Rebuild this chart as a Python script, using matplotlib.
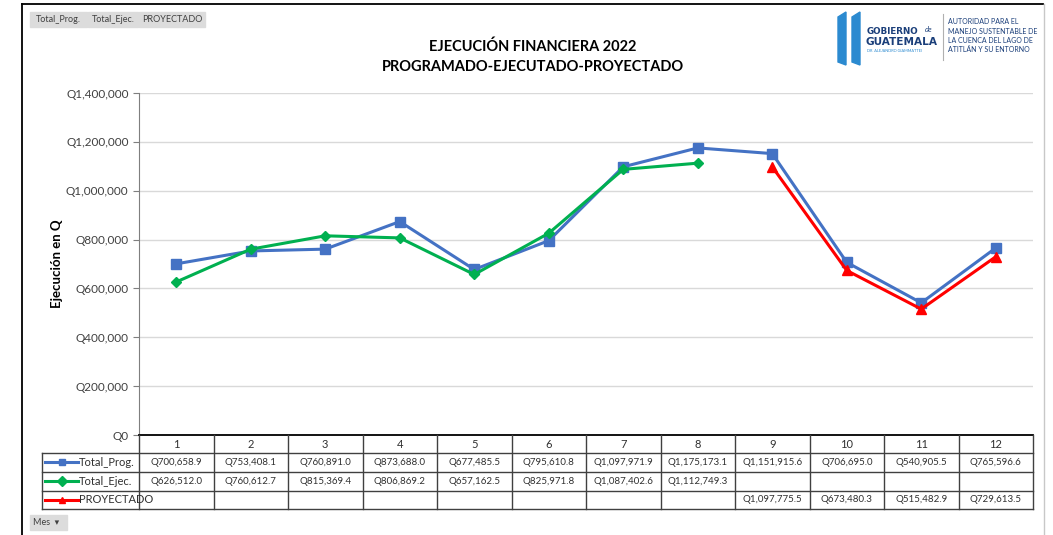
import numpy as np
import matplotlib.pyplot as plt
from matplotlib.patches import Rectangle, Polygon
from matplotlib.lines import Line2D
from matplotlib.ticker import FuncFormatter

# datos
meses = [1, 2, 3, 4, 5, 6, 7, 8, 9, 10, 11, 12]
total_prog = [700658.9, 753408.1, 760891.0, 873688.0, 677485.5, 795610.8,
              1097971.9, 1175173.1, 1151915.6, 706695.0, 540905.5, 765596.6]
total_ejec = [626512.0, 760612.7, 815369.4, 806869.2, 657162.5, 825971.8,
              1087402.6, 1112749.3]
proy_meses = [9, 10, 11, 12]
proyectado = [1097775.5, 673480.3, 515482.9, 729613.5]

series = ["Total_Prog.", "Total_Ejec.", "PROYECTADO"]
titulo = "EJECUCIÓN FINANCIERA 2022\nPROGRAMADO-EJECUTADO-PROYECTADO"

AZUL, VERDE, ROJO = "#4472C4", "#00B050", "#FF0000"
FONT = "Lato"
plt.rcParams['font.family'] = [FONT, 'DejaVu Sans']

W, H = 1053, 535
fig = plt.figure(figsize=(W / 100, H / 100), dpi=100)
fig.patch.set_facecolor("white")


def fx(px):
    return px / W


def fy(py):
    return 1 - py / H


# marco
fig.add_artist(Line2D([fx(22), fx(22)], [fy(4), 0], color="black", lw=1.3))
fig.add_artist(Line2D([fx(22), fx(1043)], [fy(4), fy(4)], color="black", lw=1.3))
fig.add_artist(Line2D([fx(1044), fx(1044)], [fy(4), 0], color="#c8c8c8", lw=1))

# grafico principal
x0, x1, ytop, ybot = 139, 1033, 93, 435
ax = fig.add_axes([fx(x0), fy(ybot), fx(x1 - x0), (ybot - ytop) / H])
ax.plot(meses, total_prog, color=AZUL, lw=2.2, marker="s", ms=6.5, zorder=3)
ax.plot(meses[:len(total_ejec)], total_ejec, color=VERDE, lw=2.2, marker="D", ms=5, zorder=4)
ax.plot(proy_meses, proyectado, color=ROJO, lw=2.2, marker="^", ms=7, zorder=5)
ax.set_xlim(0.5, 12.5)
ax.set_ylim(0, 1400000)
ax.set_yticks(np.arange(0, 1400001, 200000))
ax.yaxis.set_major_formatter(FuncFormatter(lambda v, p: f"Q{v:,.0f}"))
ax.set_xticks([])
ax.grid(axis="y", color="#d9d9d9", lw=1)
ax.set_axisbelow(True)
for s in ["top", "right"]:
    ax.spines[s].set_visible(False)
ax.spines["left"].set_color("#7f7f7f")
ax.spines["bottom"].set_color("black")
ax.spines["bottom"].set_linewidth(1.3)
ax.tick_params(axis="y", colors="#7f7f7f", labelcolor="#404040", labelsize=8.5, length=4)
ax.set_ylabel("Ejecución en Q", fontsize=9.5, fontweight="bold", labelpad=2)

fig.text(0.506, fy(57), titulo, ha="center", va="center", fontsize=10.5,
         fontweight="bold", linespacing=1.5)

# tabla de datos
rows_y = [435, 453, 472, 491, 509]
tx = fig.add_axes([fx(x0), fy(509), fx(x1 - x0), (509 - 435) / H])
tx.set_xlim(0.5, 12.5)
tx.set_ylim(509, 435)
tx.axis("off")
lab_x = 0.5 - (x0 - 42) / ((x1 - x0) / 12)
kw = dict(color="#404040", lw=1, clip_on=False)
for yy in rows_y[1:]:
    tx.plot([lab_x, 12.5], [yy, yy], **kw)
for i in range(13):
    tx.plot([0.5 + i, 0.5 + i], [435, 509], **kw)
tx.plot([lab_x, lab_x], [453, 509], **kw)
for m in meses:
    tx.text(m, 444.5, str(m), ha="center", va="center", fontsize=8, color="#303030")

cols = [AZUL, VERDE, ROJO]
mk = ["s", "D", "^"]
vals = [dict(zip(meses, total_prog)),
        dict(zip(meses, total_ejec)),
        dict(zip(proy_meses, proyectado))]
unit = (x1 - x0) / 12
for r in range(3):
    yc = (rows_y[r + 1] + rows_y[r + 2]) / 2
    a = lab_x + 3 / unit
    b = lab_x + 36 / unit
    tx.plot([a, b], [yc, yc], color=cols[r], lw=2.2, clip_on=False)
    tx.plot([(a + b) / 2], [yc], color=cols[r], marker=mk[r], ms=5, clip_on=False)
    tx.text(b + 1 / unit, yc, series[r], ha="left", va="center", fontsize=8, color="#303030")
    for m, v in vals[r].items():
        tx.text(m, yc, f"Q{v:,.1f}", ha="center", va="center", fontsize=7, color="#303030")

# botones de campo
for txt, a, b in [("Total_Prog.", 30, 87), ("Total_Ejec.", 88, 138), ("PROYECTADO", 139, 205)]:
    fig.add_artist(Rectangle((fx(a), fy(27)), fx(b - a), 15 / H, color="#dcdcdc"))
    fig.text(fx((a + b) / 2), fy(19.5), txt, ha="center", va="center", fontsize=6.5, color="#404040")
fig.add_artist(Rectangle((fx(30), fy(530)), fx(37), 15 / H, color="#dcdcdc"))
fig.text(fx(33), fy(522.5), "Mes  ▾", ha="left", va="center", fontsize=6.5, color="#404040",
         family=[FONT, "DejaVu Sans"])

# logotipo
azul_logo = "#2B8AD0"
for xa in [838, 852]:
    fig.add_artist(Polygon([(fx(xa), fy(62)), (fx(xa + 8), fy(65)), (fx(xa + 8), fy(12)),
                            (fx(xa), fy(17))], closed=True, color=azul_logo))
fig.text(fx(867), fy(31), "GOBIERNO", fontsize=6.3, fontweight="bold", color="#1b3f7a", va="center",
         family="DejaVu Sans")
fig.text(fx(925), fy(29), "de", fontsize=5.5, style="italic", color="#1b3f7a", va="center")
fig.text(fx(866), fy(42), "GUATEMALA", fontsize=7.6, fontweight="bold", color="#1b3f7a", va="center",
         family="DejaVu Sans")
fig.text(fx(867), fy(51), "DR. ALEJANDRO GIAMMATTEI", fontsize=2.8, color=azul_logo, va="center")
fig.add_artist(Line2D([fx(943), fx(943)], [fy(14), fy(60)], color="#b0b0b0", lw=0.8))
for i, t in enumerate(["AUTORIDAD PARA EL", "MANEJO SUSTENTABLE DE",
                       "LA CUENCA DEL LAGO DE", "ATITLÁN Y SU ENTORNO"]):
    fig.text(fx(948), fy(22 + 9.3 * i), t, fontsize=5, color="#1b3f7a", va="center")

fig.savefig("out.png", dpi=100, facecolor="white")
